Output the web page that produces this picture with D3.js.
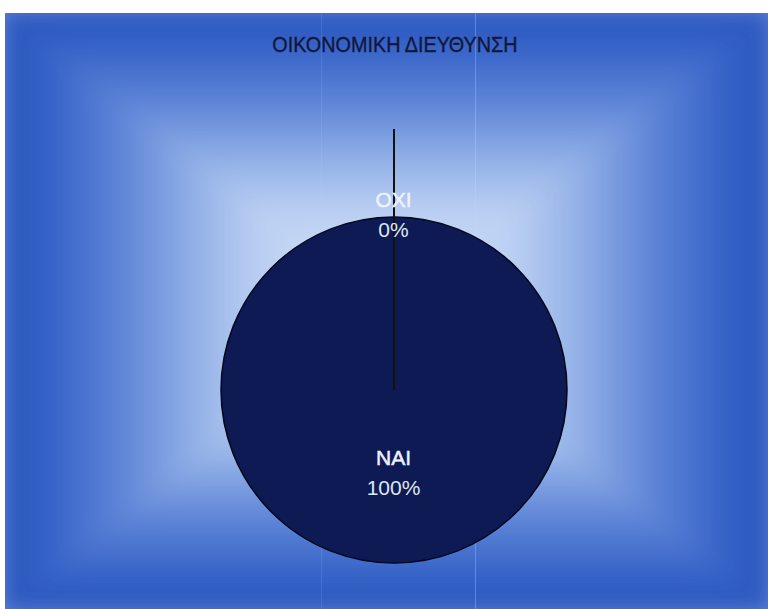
<!DOCTYPE html>
<html>
<head>
<meta charset="utf-8">
<script src="https://cdn.jsdelivr.net/npm/d3@7"></script>
<style>
  body { margin: 0; background: #fff; }
  svg { display: block; }
</style>
</head>
<body>
<div id="viz"></div>
<script>
// data
var categories = ["ΝΑΙ", "ΟΧΙ"];
var values = [100, 0];
var percentLabels = ["100%", "0%"];
var title = "ΟΙΚΟΝΟΜΙΚΗ ΔΙΕΥΘΥΝΣΗ";

// layout
var width = 768, height = 609;
var area = {x: 5, y: 13, w: 763, h: 596};
var cx = 394, cy = 390, radius = 173;

var svg = d3.select("#viz").append("svg")
  .attr("width", width)
  .attr("height", height);

var defs = svg.append("defs");

// rectangular "path" gradient built from four triangles
var stops = [
  {o: 0, c: "#2a55bb"},
  {o: 0.1, c: "#3360c6"},
  {o: 0.3, c: "#5d84d7"},
  {o: 0.5, c: "#93b1e7"},
  {o: 0.66, c: "#b9cef2"},
  {o: 1, c: "#dbe7fb"}
];
var mx = area.x + area.w / 2, my = area.y + area.h / 2;
var tris = [
  {id: "gT", pts: [[area.x, area.y], [area.x + area.w, area.y], [mx, my]], g: [0, 0, 0, 1]},
  {id: "gB", pts: [[area.x, area.y + area.h], [area.x + area.w, area.y + area.h], [mx, my]], g: [0, 1, 0, 0]},
  {id: "gL", pts: [[area.x, area.y], [area.x, area.y + area.h], [mx, my]], g: [0, 0, 1, 0]},
  {id: "gR", pts: [[area.x + area.w, area.y], [area.x + area.w, area.y + area.h], [mx, my]], g: [1, 0, 0, 0]}
];
tris.forEach(function(t) {
  var lg = defs.append("linearGradient")
    .attr("id", t.id)
    .attr("x1", t.g[0]).attr("y1", t.g[1])
    .attr("x2", t.g[2]).attr("y2", t.g[3]);
  stops.forEach(function(s) {
    lg.append("stop").attr("offset", s.o).attr("stop-color", s.c);
  });
});

// soften the seams a little
defs.append("filter").attr("id", "soft")
  .attr("x", 0).attr("y", 0).attr("width", 1).attr("height", 1)
  .append("feGaussianBlur").attr("stdDeviation", 10);

var bg = svg.append("g").attr("class", "background");
bg.append("rect")
  .attr("x", area.x).attr("y", area.y)
  .attr("width", area.w).attr("height", area.h)
  .attr("fill", "#5d84d7");
bg.append("g")
  .attr("filter", "url(#soft)")
  .selectAll("path")
  .data(tris)
  .enter().append("path")
  .attr("d", function(d) { return "M" + d.pts.join("L") + "Z"; })
  .attr("fill", function(d) { return "url(#" + d.id + ")"; })
  .attr("stroke", function(d) { return "url(#" + d.id + ")"; })
  .attr("stroke-width", 1);

// faint vertical scan lines
svg.selectAll("line.scan")
  .data([{x: 321.5, o: 0.12}, {x: 475.5, o: 0.32}])
  .enter().append("line")
  .attr("class", "scan")
  .attr("x1", function(d) { return d.x; }).attr("x2", function(d) { return d.x; })
  .attr("y1", area.y).attr("y2", height)
  .attr("stroke", "#b5e0ee")
  .attr("stroke-opacity", function(d) { return d.o; })
  .attr("stroke-width", 1);

// title (narrow, slightly heavy face)
svg.append("text")
  .attr("transform", "translate(395,52) scale(0.88,1)")
  .attr("text-anchor", "middle")
  .attr("font-family", "Liberation Sans, Arial, sans-serif")
  .attr("font-size", 22.5)
  .attr("fill", "#12163a")
  .attr("stroke", "#12163a")
  .attr("stroke-width", 0.35)
  .text(title);

// pie
var pie = d3.pie().sort(null).value(function(d) { return d; });
var arcs = pie(values);
var arc = d3.arc().innerRadius(0).outerRadius(radius);

var g = svg.append("g").attr("transform", "translate(" + cx + "," + cy + ")");

g.selectAll("path.slice")
  .data(arcs)
  .enter().append("path")
  .attr("class", "slice")
  .attr("d", arc)
  .attr("fill", "#0d1a54")
  .attr("stroke", "#03071d")
  .attr("stroke-width", 1.5);

// leader line for the zero slice
var leaderArc = d3.arc().innerRadius(261).outerRadius(261);
arcs.forEach(function(d, i) {
  if (values[i] === 0) {
    var p = leaderArc.centroid(d);
    g.append("line")
      .attr("x1", 0).attr("y1", 0)
      .attr("x2", p[0]).attr("y2", p[1])
      .attr("stroke", "#111")
      .attr("stroke-width", 2);
  }
});

// labels
var labels = g.selectAll("g.label")
  .data(arcs)
  .enter().append("g")
  .attr("class", "label")
  .attr("transform", function(d, i) {
    var r = values[i] === 0 ? radius + 1 : 84;
    var a = (d.startAngle + d.endAngle) / 2;
    return "translate(" + (Math.sin(a) * r - 0.5) + "," + (-Math.cos(a) * r) + ")";
  });

labels.append("text")
  .attr("y", -9)
  .attr("text-anchor", "middle")
  .attr("font-family", "Liberation Sans, Arial, sans-serif")
  .attr("font-size", 21)
  .attr("fill", "#eef2fb")
  .attr("stroke", "#eef2fb")
  .attr("stroke-width", 0.5)
  .text(function(d, i) { return categories[i]; });

labels.append("text")
  .attr("y", 21)
  .attr("text-anchor", "middle")
  .attr("font-family", "Liberation Sans, Arial, sans-serif")
  .attr("font-size", 21)
  .attr("fill", "#dfe6f4")
  .text(function(d, i) { return percentLabels[i]; });
</script>
</body>
</html>
